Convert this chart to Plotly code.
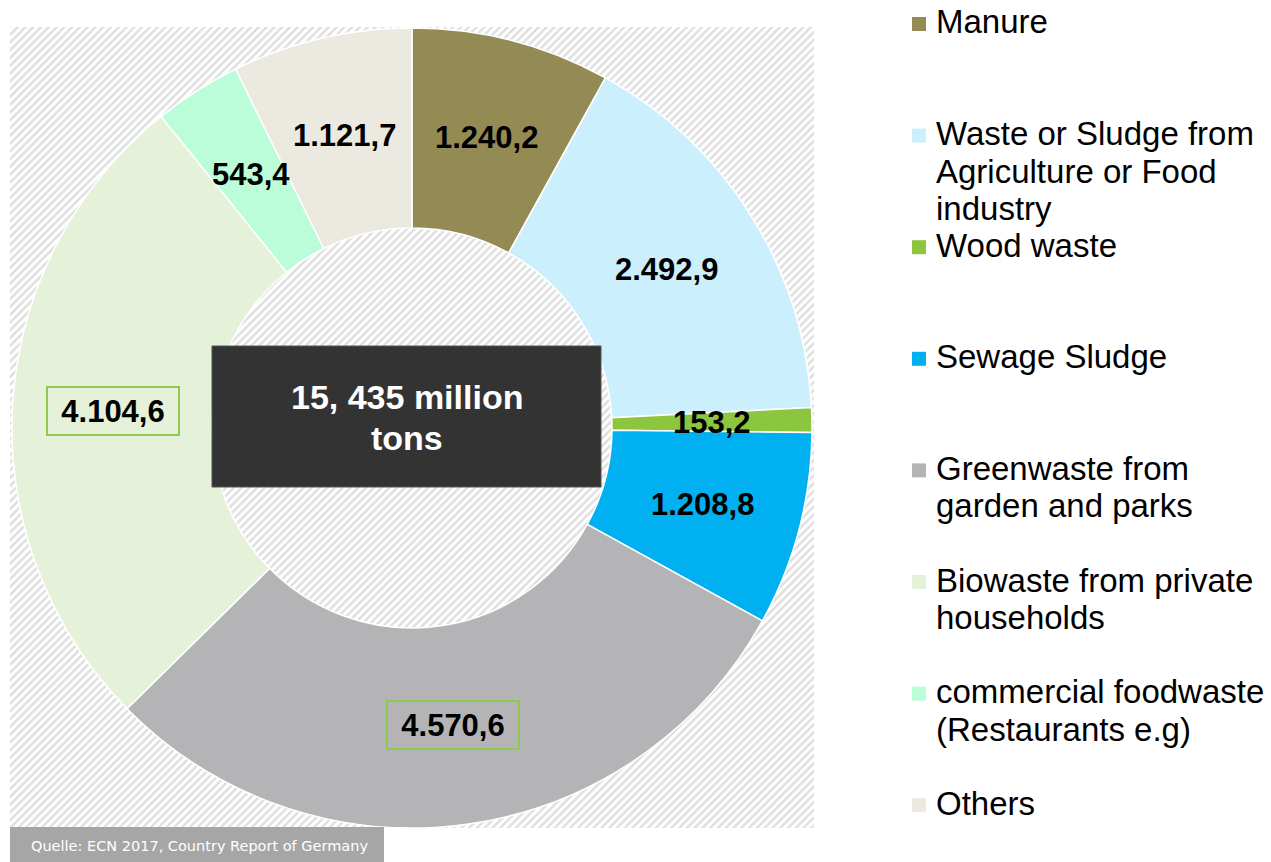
import math
import plotly.graph_objects as go

W, H = 1271, 862

# ---- data -------------------------------------------------------------
categories = [
    "Manure",
    "Waste or Sludge from Agriculture or Food industry",
    "Wood waste",
    "Sewage Sludge",
    "Greenwaste from garden and parks",
    "Biowaste from private households",
    "commercial foodwaste (Restaurants e.g)",
    "Others",
]
legend_lines = [
    ["Manure"],
    ["Waste or Sludge from", "Agriculture or Food", "industry"],
    ["Wood waste"],
    ["Sewage Sludge"],
    ["Greenwaste from", "garden and parks"],
    ["Biowaste from private", "households"],
    ["commercial foodwaste", "(Restaurants e.g)"],
    ["Others"],
]
values = [1240.2, 2492.9, 153.2, 1208.8, 4570.6, 4104.6, 543.4, 1121.7]
boxed = [False, False, False, False, True, True, False, False]
colors = ["#948A54", "#CCEFFD", "#8CC63E", "#00B0F0",
          "#B4B4B6", "#E5F1D8", "#BBFDD8", "#ECE9E0"]
total_lines = ["15, 435 million", "tons"]
source_text = "Quelle: ECN 2017, Country Report of Germany"


def de_format(v):
    s = f"{v:,.1f}"
    return s.replace(",", "#").replace(".", ",").replace("#", ".")


value_labels = [de_format(v) for v in values]


# ---- pixel helpers (page is W x H, no margins) -------------------------
def px(x):
    return x / W


def py(y):
    return 1 - y / H


CX, CY, R = 412, 428, 400          # donut centre and outer radius, px
HATCH = (10, 27, 814, 828)         # hatched panel: left, top, right, bottom

fig = go.Figure()

# hatched panel behind the donut
x0 = (HATCH[0] - CX) / R
x1 = (HATCH[2] - CX) / R
y0 = (CY - HATCH[3]) / R
y1 = (CY - HATCH[1]) / R
fig.add_trace(go.Scatter(
    x=[x0, x1, x1, x0, x0], y=[y0, y0, y1, y1, y0],
    mode="lines", fill="toself", line=dict(width=0),
    fillcolor="white",
    fillpattern=dict(shape="/", fgcolor="#BEBEBE", bgcolor="white",
                     size=5.5, solidity=0.45),
    hoverinfo="skip", showlegend=False,
))

# donut
fig.add_trace(go.Pie(
    labels=categories, values=values, hole=0.5, sort=False,
    direction="clockwise", rotation=0,
    marker=dict(colors=colors, line=dict(color="white", width=1.5)),
    textinfo="none", hoverinfo="label+value", showlegend=False,
    domain=dict(x=[px(CX - R), px(CX + R)], y=[py(CY + R), py(CY - R)]),
))

annotations = []
shapes = []

# value labels at mid-ring of each slice
total = sum(values)
cum = 0.0
for v, lab, bx in zip(values, value_labels, boxed):
    theta = 2 * math.pi * (cum + v / 2) / total
    cum += v
    a = dict(x=0.75 * math.sin(theta), y=0.75 * math.cos(theta),
             xref="x", yref="y", text=lab, showarrow=False,
             font=dict(family="Arial, Liberation Sans", size=31,
                       color="black", weight="bold"),
             xanchor="center", yanchor="middle")
    if bx:
        a.update(bordercolor="#8DCB4A", borderwidth=2, borderpad=1,
                 width=128, height=44)
    annotations.append(a)

# centre total box
shapes.append(dict(type="rect", xref="paper", yref="paper",
                   x0=px(212), x1=px(601), y0=py(487), y1=py(346),
                   fillcolor="#333333", line=dict(color="#555555", width=1),
                   layer="above"))
for t, ly in zip(total_lines, [397, 438]):
    annotations.append(dict(x=px(406.5), y=py(ly), xref="paper", yref="paper",
                            text=t, showarrow=False,
                            font=dict(family="Arial, Liberation Sans", size=34,
                                      color="white", weight="bold"),
                            xanchor="center", yanchor="middle"))

# legend
ITEM_Y0, ITEM_STEP, LINE_STEP = 22, 111.6, 37.5
for i, (lines, col) in enumerate(zip(legend_lines, colors)):
    top = ITEM_Y0 + i * ITEM_STEP
    shapes.append(dict(type="rect", xref="paper", yref="paper",
                       x0=px(912), x1=px(926), y0=py(top + 9), y1=py(top - 5),
                       fillcolor=col, line=dict(width=0), layer="above"))
    for k, t in enumerate(lines):
        annotations.append(dict(x=px(934), y=py(top + k * LINE_STEP),
                                xref="paper", yref="paper", text=t,
                                showarrow=False,
                                font=dict(family="Arial, Liberation Sans",
                                          size=33, color="black"),
                                xanchor="left", yanchor="middle"))

# source note
shapes.append(dict(type="rect", xref="paper", yref="paper",
                   x0=px(10), x1=px(384), y0=py(862), y1=py(827),
                   fillcolor="#A6A6A6", line=dict(width=0), layer="above"))
annotations.append(dict(x=px(29), y=py(846), xref="paper", yref="paper",
                        text=source_text, showarrow=False,
                        font=dict(family="DejaVu Sans", size=14.5, color="white"),
                        xanchor="left", yanchor="middle"))

fig.update_layout(
    width=W, height=H, margin=dict(l=0, r=0, t=0, b=0),
    paper_bgcolor="white", plot_bgcolor="white",
    xaxis=dict(domain=[px(HATCH[0]), px(HATCH[2])], range=[x0, x1],
               visible=False, fixedrange=True),
    yaxis=dict(domain=[py(HATCH[3]), py(HATCH[1])], range=[y0, y1],
               visible=False, fixedrange=True),
    annotations=annotations, shapes=shapes,
)

fig.write_html("out.html")
